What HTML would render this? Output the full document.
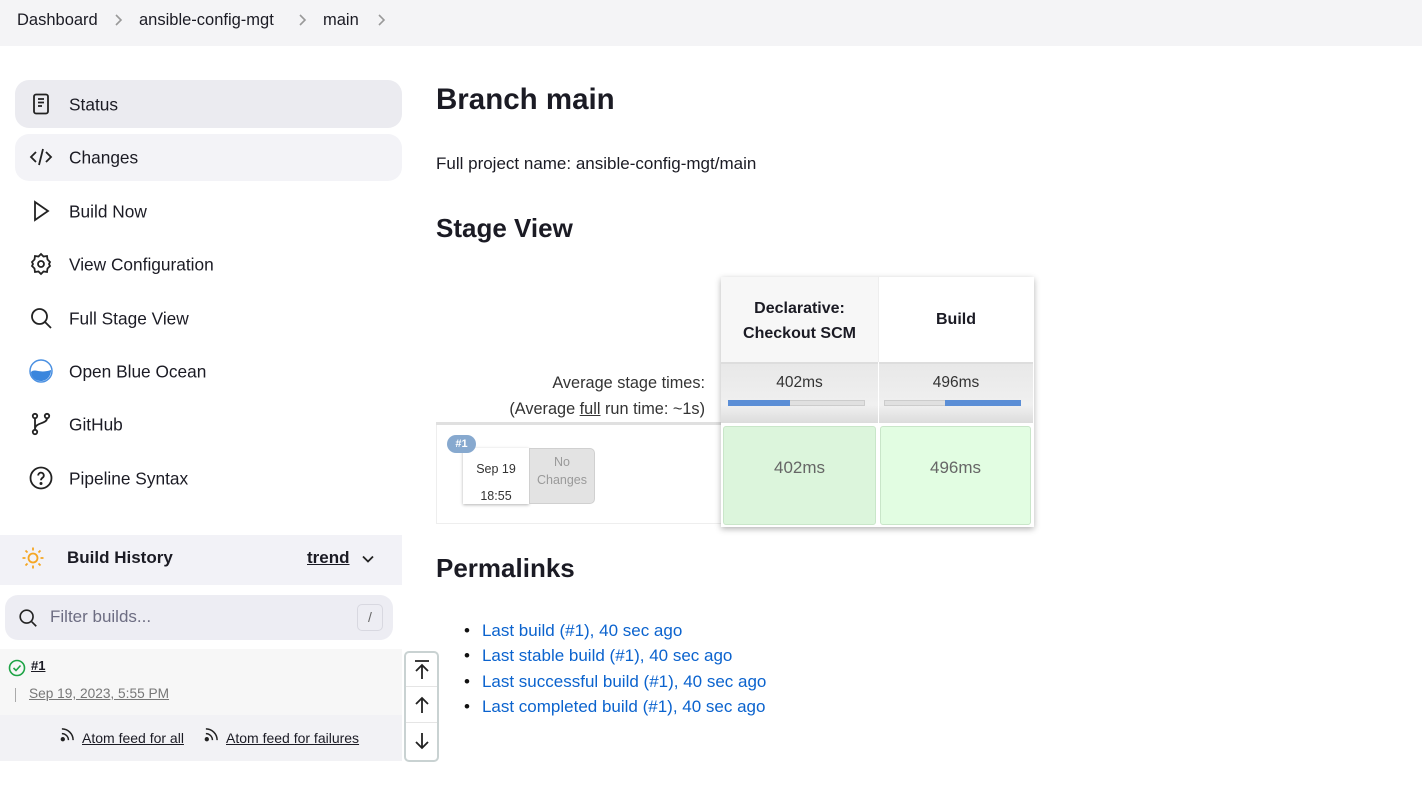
<!DOCTYPE html>
<html><head><meta charset="utf-8"><style>
*{margin:0;padding:0;box-sizing:border-box}
body{width:1422px;height:794px;background:#fff;font-family:"Liberation Sans","DejaVu Sans",sans-serif;color:#1b1b24;position:relative;overflow:hidden}
.a{position:absolute;white-space:nowrap}
.bc{position:absolute;left:0;top:0;width:1422px;height:46px;background:#f4f4f6}
.bc span{position:absolute;top:11px;font-size:16.5px}
.bc svg{position:absolute;top:13px}
.nav{position:absolute;left:15px;width:387px;height:47px;border-radius:14px}
.lbl{position:absolute;left:69px;font-size:17.3px;transform:translateY(-50%)}
.ic{position:absolute;left:29px;width:24px;height:24px;transform:translateY(-50%)}
.link{color:#0b63ce}
</style></head><body>
<div class="bc">
<span style="left:17px">Dashboard</span>
<svg style="left:113px" width="10" height="14" viewBox="0 0 10 14" fill="none" stroke="#999" stroke-width="1.6"><path d="M3 2l5 5-5 5"/></svg>
<span style="left:139px">ansible-config-mgt</span>
<svg style="left:297px" width="10" height="14" viewBox="0 0 10 14" fill="none" stroke="#999" stroke-width="1.6"><path d="M3 2l5 5-5 5"/></svg>
<span style="left:323px">main</span>
<svg style="left:376px" width="10" height="14" viewBox="0 0 10 14" fill="none" stroke="#999" stroke-width="1.6"><path d="M3 2l5 5-5 5"/></svg>
</div>

<div class="nav" style="top:80px;height:48px;background:#ebebf0"></div>
<div class="nav" style="top:134px;background:#f3f3f7"></div>

<svg class="ic" style="top:104px" viewBox="0 0 24 24" fill="none" stroke="#222" stroke-width="1.8"><rect x="5" y="2.5" width="14" height="19" rx="2"/><path d="M9 7h6M9 10.5h6M9 14h4"/></svg>
<div class="lbl" style="top:105px">Status</div>
<svg class="ic" style="top:157px" viewBox="0 0 24 24" fill="none" stroke="#222" stroke-width="1.8"><path d="M7 7l-5 5 5 5M17 7l5 5-5 5M14 4l-4 16"/></svg>
<div class="lbl" style="top:158px">Changes</div>
<svg class="ic" style="top:211px" viewBox="0 0 24 24" fill="none" stroke="#222" stroke-width="1.8"><path d="M6 3l13 9-13 9z"/></svg>
<div class="lbl" style="top:212px">Build Now</div>
<svg class="ic" style="top:264px" viewBox="0 0 24 24" fill="none" stroke="#222" stroke-width="1.8"><circle cx="12" cy="12" r="3"/><path d="M12 2l2.5 2.5 3.5-.5.5 3.5L21 10l-1 2 1 2-2.5 2.5-.5 3.5-3.5-.5L12 22l-2.5-2.5-3.5.5-.5-3.5L3 14l1-2-1-2 2.5-2.5L6 4l3.5.5z"/></svg>
<div class="lbl" style="top:265px">View Configuration</div>
<svg class="ic" style="top:318px" viewBox="0 0 24 24" fill="none" stroke="#222" stroke-width="1.8"><circle cx="10.5" cy="10.5" r="7.5"/><path d="M16 16l6 6"/></svg>
<div class="lbl" style="top:319px">Full Stage View</div>
<svg class="ic" style="top:371px" viewBox="0 0 24 24"><circle cx="12" cy="12" r="11" fill="#fff" stroke="#4a90e2" stroke-width="1.5"/><path d="M2 13c4-4 8 2 20-2 0 6-4 11-10 11S2 18 2 13z" fill="#3a86dd"/></svg>
<div class="lbl" style="top:372px">Open Blue Ocean</div>
<svg class="ic" style="top:424px" viewBox="0 0 24 24" fill="none" stroke="#222" stroke-width="1.8"><circle cx="6" cy="4" r="2.2"/><circle cx="6" cy="20" r="2.2"/><circle cx="18" cy="4" r="2.2"/><path d="M6 6.2v11.6M18 6.2c0 6-12 4-12 11"/></svg>
<div class="lbl" style="top:425px">GitHub</div>
<svg class="ic" style="top:478px" viewBox="0 0 24 24" fill="none" stroke="#222" stroke-width="1.8"><circle cx="12" cy="12" r="10.5"/><path d="M9.2 9.5a2.8 2.8 0 115 1.7c-1 .9-2.2 1.3-2.2 3"/><circle cx="12" cy="17.5" r=".6" fill="#222"/></svg>
<div class="lbl" style="top:479px">Pipeline Syntax</div>

<div class="a" style="left:0;top:535px;width:402px;height:50px;background:#f2f2f7"></div>
<svg class="a" style="left:21px;top:546px" width="24" height="24" viewBox="0 0 24 24" fill="none" stroke="#f5a623" stroke-width="1.8"><circle cx="12" cy="12" r="4.5"/><path d="M12 1.5v3M12 19.5v3M1.5 12h3M19.5 12h3M4.5 4.5l2 2M17.5 17.5l2 2M4.5 19.5l2-2M17.5 6.5l2-2"/></svg>
<div class="a" style="left:67px;top:548px;font-size:17px;font-weight:bold">Build History</div>
<div class="a" style="left:307px;top:548px;font-size:17px;font-weight:bold;text-decoration:underline">trend</div>
<svg class="a" style="left:361px;top:552px" width="14" height="14" viewBox="0 0 14 14" fill="none" stroke="#222" stroke-width="1.8"><path d="M2 4.5l5 5 5-5"/></svg>

<div class="a" style="left:5px;top:595px;width:388px;height:45px;border-radius:13px;background:#ededf3"></div>
<svg class="a" style="left:17px;top:607px" width="22" height="22" viewBox="0 0 24 24" fill="none" stroke="#222" stroke-width="1.8"><circle cx="10.5" cy="10.5" r="7"/><path d="M16 16l5 5"/></svg>
<div class="a" style="left:50px;top:607px;font-size:17px;color:#6d6d82">Filter builds...</div>
<div class="a" style="left:357px;top:604px;width:26px;height:27px;border:1px solid #d8d8e0;border-radius:5px;font-size:14px;color:#666;text-align:center;line-height:25px">/</div>

<div class="a" style="left:0;top:649px;width:402px;height:66px;background:#f7f7f7"></div>
<div class="a" style="left:0;top:715px;width:402px;height:46px;background:#f2f2f5"></div>
<svg class="a" style="left:8px;top:659px" width="18" height="18" viewBox="0 0 18 18" fill="none" stroke="#1ea446" stroke-width="1.6"><circle cx="9" cy="9" r="7.5"/><path d="M5.5 9l2.5 2.5 4.5-5"/></svg>
<div class="a" style="left:31px;top:658px;font-size:13px;text-decoration:underline;font-weight:bold">#1</div>
<div class="a" style="left:15px;top:688px;width:1px;height:14px;background:#aaa"></div>
<div class="a" style="left:29px;top:686px;font-size:13.7px;color:#777;text-decoration:underline">Sep 19, 2023, 5:55 PM</div>
<svg class="a" style="left:60px;top:727px" width="15" height="15" viewBox="0 0 16 16" fill="none" stroke="#222" stroke-width="1.6"><circle cx="3" cy="13" r="1.5" fill="#222"/><path d="M2 7a7 7 0 017 7M2 2a12 12 0 0112 12"/></svg>
<div class="a" style="left:82px;top:730px;font-size:14px;text-decoration:underline">Atom feed for all</div>
<svg class="a" style="left:204px;top:727px" width="15" height="15" viewBox="0 0 16 16" fill="none" stroke="#222" stroke-width="1.6"><circle cx="3" cy="13" r="1.5" fill="#222"/><path d="M2 7a7 7 0 017 7M2 2a12 12 0 0112 12"/></svg>
<div class="a" style="left:226px;top:730px;font-size:14px;text-decoration:underline">Atom feed for failures</div>

<div class="a" style="left:404px;top:651px;width:35px;height:111px;border:2px solid #c9d2d2;border-radius:5px;background:#fff"></div>
<div class="a" style="left:406px;top:686px;width:31px;height:1px;background:#e5e5e5"></div>
<div class="a" style="left:406px;top:722px;width:31px;height:1px;background:#e5e5e5"></div>
<svg class="a" style="left:412px;top:659px" width="20" height="22" viewBox="0 0 20 22" fill="none" stroke="#222" stroke-width="1.8"><path d="M3 2h14M10 20V6M4 12l6-6 6 6"/></svg>
<svg class="a" style="left:412px;top:695px" width="20" height="20" viewBox="0 0 20 20" fill="none" stroke="#222" stroke-width="1.8"><path d="M10 18V3M4 9l6-6 6 6"/></svg>
<svg class="a" style="left:412px;top:731px" width="20" height="20" viewBox="0 0 20 20" fill="none" stroke="#222" stroke-width="1.8"><path d="M10 2v15M4 11l6 6 6-6"/></svg>

<div class="a" style="left:436px;top:83px;font-size:29.5px;font-weight:bold">Branch main</div>
<div class="a" style="left:436px;top:154px;font-size:17px">Full project name: ansible-config-mgt/main</div>
<div class="a" style="left:436px;top:213px;font-size:26px;font-weight:bold">Stage View</div>

<div class="a" style="left:436px;top:374px;width:269px;text-align:right;font-size:16.3px;color:#333">Average stage times:</div>
<div class="a" style="left:436px;top:400px;width:269px;text-align:right;font-size:16.3px;color:#333">(Average <u>full</u> run time: ~1s)</div>
<div class="a" style="left:436px;top:422px;width:285px;height:3px;background:#e0e0e0"></div>
<div class="a" style="left:436px;top:425px;width:286px;height:99px;border:1px solid #eee;border-top:none"></div>
<div class="a" style="left:463px;top:448px;width:66px;height:56px;background:#fff;box-shadow:0 1px 3px rgba(0,0,0,.3);font-size:12.5px;text-align:center;color:#333;padding-top:8px;line-height:27px">Sep 19<br>18:55</div>
<div class="a" style="left:529px;top:448px;width:66px;height:56px;background:#e3e3e3;border:1px solid #d0d0d0;border-radius:0 5px 5px 0;font-size:12.5px;text-align:center;color:#9a9a9a;padding-top:4px;line-height:18px">No<br>Changes</div>
<div class="a" style="left:447px;top:435px;width:29px;height:18px;border-radius:9px;background:#87a9cf;color:#fff;font-size:11px;font-weight:bold;text-align:center;line-height:18px">#1</div>

<div class="a" style="left:721px;top:277px;width:313px;height:250px;box-shadow:0 2px 6px rgba(0,0,0,.3);background:#fff"></div>
<div class="a" style="left:721px;top:277px;width:157px;height:85px;background:#f7f7f7;font-size:16px;font-weight:bold;text-align:center;padding-top:19px;line-height:25px">Declarative:<br>Checkout SCM</div>
<div class="a" style="left:878px;top:277px;width:155px;height:85px;background:#fff;font-size:16px;font-weight:bold;text-align:center;padding-top:34px;border-left:1px solid #eee">Build</div>
<div class="a" style="left:721px;top:362px;width:312px;height:61px;background:linear-gradient(#e8e8e8,#f0f0f0 70%,#dcdcdc);border-top:2px solid #ddd"></div>
<div class="a" style="left:878px;top:362px;width:1px;height:61px;background:#fff"></div>
<div class="a" style="left:721px;top:374px;width:157px;text-align:center;font-size:15.5px;color:#333">402ms</div>
<div class="a" style="left:879px;top:374px;width:154px;text-align:center;font-size:15.5px;color:#333">496ms</div>
<div class="a" style="left:728px;top:400px;width:137px;height:6px;background:#e0e0e0;border:1px solid #ccc"></div>
<div class="a" style="left:728px;top:400px;width:62px;height:6px;background:#5b8ed6"></div>
<div class="a" style="left:884px;top:400px;width:137px;height:6px;background:#e0e0e0;border:1px solid #ccc"></div>
<div class="a" style="left:945px;top:400px;width:76px;height:6px;background:#5b8ed6"></div>
<div class="a" style="left:723px;top:426px;width:153px;height:99px;background:#dcf5dc;border:1px solid #c9e6c9;border-radius:3px;text-align:center;font-size:17px;color:#666;padding-top:31px">402ms</div>
<div class="a" style="left:880px;top:426px;width:151px;height:99px;background:#e2fde2;border:1px solid #c9e6c9;border-radius:3px;text-align:center;font-size:17px;color:#666;padding-top:31px">496ms</div>

<div class="a" style="left:436px;top:553px;font-size:26px;font-weight:bold">Permalinks</div>
<div class="a link" style="left:464px;top:618px;font-size:17px;line-height:25.3px">
<div><span style="color:#111;margin-right:12px">&#8226;</span>Last build (#1), 40 sec ago</div>
<div><span style="color:#111;margin-right:12px">&#8226;</span>Last stable build (#1), 40 sec ago</div>
<div><span style="color:#111;margin-right:12px">&#8226;</span>Last successful build (#1), 40 sec ago</div>
<div><span style="color:#111;margin-right:12px">&#8226;</span>Last completed build (#1), 40 sec ago</div>
</div>
</body></html>
